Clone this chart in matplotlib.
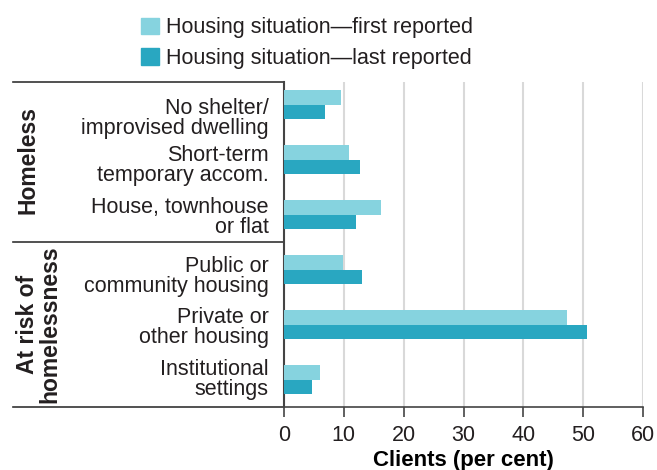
import matplotlib.pyplot as plt
import matplotlib.transforms as mtransforms
from matplotlib.patches import Patch
import numpy as np

plt.rcParams.update({
    "font.family": ["Liberation Sans", "DejaVu Sans"],
    "font.size": 15.5,
    "text.color": "#231f20",
    "xtick.color": "#231f20",
    "ytick.color": "#231f20",
})

categories = [
    "No shelter/\nimprovised dwelling",
    "Short-term\ntemporary accom.",
    "House, townhouse\nor flat",
    "Public or\ncommunity housing",
    "Private or\nother housing",
    "Institutional\nsettings",
]
first_reported = [9.5, 10.9, 16.2, 9.8, 47.3, 6.1]
last_reported = [6.8, 12.8, 12.0, 13.1, 50.6, 4.7]
series_labels = ["Housing situation\u2014first reported", "Housing situation\u2014last reported"]
groups = ["Homeless", "At risk of\nhomelessness"]
xticks = [0, 10, 20, 30, 40, 50, 60]

c_first = "#86d3df"
c_last = "#29a7c1"
dark = "#444444"

fig = plt.figure(figsize=(6.57, 4.70), dpi=100)
ax = fig.add_axes([0.432, 0.134, 0.547, 0.6915])

y = np.arange(len(categories))
h = 0.265
ax.barh(y - h / 2, first_reported, height=h, color=c_first, label=series_labels[0], zorder=3)
ax.barh(y + h / 2, last_reported, height=h, color=c_last, label=series_labels[1], zorder=3)

ax.set_xlim(0, 60)
ax.set_ylim(5.5, -0.41)
ax.set_xticks(xticks)
ax.tick_params(axis="x", length=7, width=1.2, color=dark, pad=6, labelsize=15.5)
ax.set_yticks(y)
ax.set_yticklabels(categories, linespacing=0.92)
ax.tick_params(axis="y", length=0, pad=11, labelsize=15.5)

# the original nudges some labels a little below their bars
nudge_px = [12, 4, 1, 5, 1, -2]
for lab, d in zip(ax.get_yticklabels(), nudge_px):
    lab.set_transform(lab.get_transform()
                      + mtransforms.ScaledTranslation(0, -d / 100, fig.dpi_scale_trans))

ax.grid(axis="x", color="#d9d9d9", linewidth=1.5, zorder=0)
for s in ["top", "right"]:
    ax.spines[s].set_visible(False)
ax.spines["left"].set_color(dark)
ax.spines["left"].set_linewidth(1.5)
ax.spines["bottom"].set_color(dark)
ax.spines["bottom"].set_linewidth(1.2)
ax.set_xlabel("Clients (per cent)", fontweight="bold", fontsize=16, labelpad=3)

# group brackets on the left
x_left = (13 - 284) / 359
trans = mtransforms.blended_transform_factory(ax.transAxes, ax.transData)
for yy in [-0.41, 2.5, 5.5]:
    ax.plot([x_left, 0], [yy, yy], transform=trans, color="#333333", lw=1.2, clip_on=False)

ax.text(-0.712, 1.0, groups[0], transform=trans, rotation=90, ha="center", va="center",
        fontweight="bold", fontsize=16.5)
ax.text(-0.682, 4.0, groups[1], transform=trans, rotation=90, ha="center", va="center",
        fontweight="bold", fontsize=16.5, linespacing=0.95)

handles = [Patch(color=c_first), Patch(color=c_last)]
fig.legend(handles, series_labels, loc="upper left", bbox_to_anchor=(141 / 657, 0.963),
           frameon=False, handlelength=0.85, handleheight=0.8, handletextpad=0.3,
           labelspacing=0.45, fontsize=15.5, borderaxespad=0, borderpad=0)

fig.savefig("out.png", dpi=100)
